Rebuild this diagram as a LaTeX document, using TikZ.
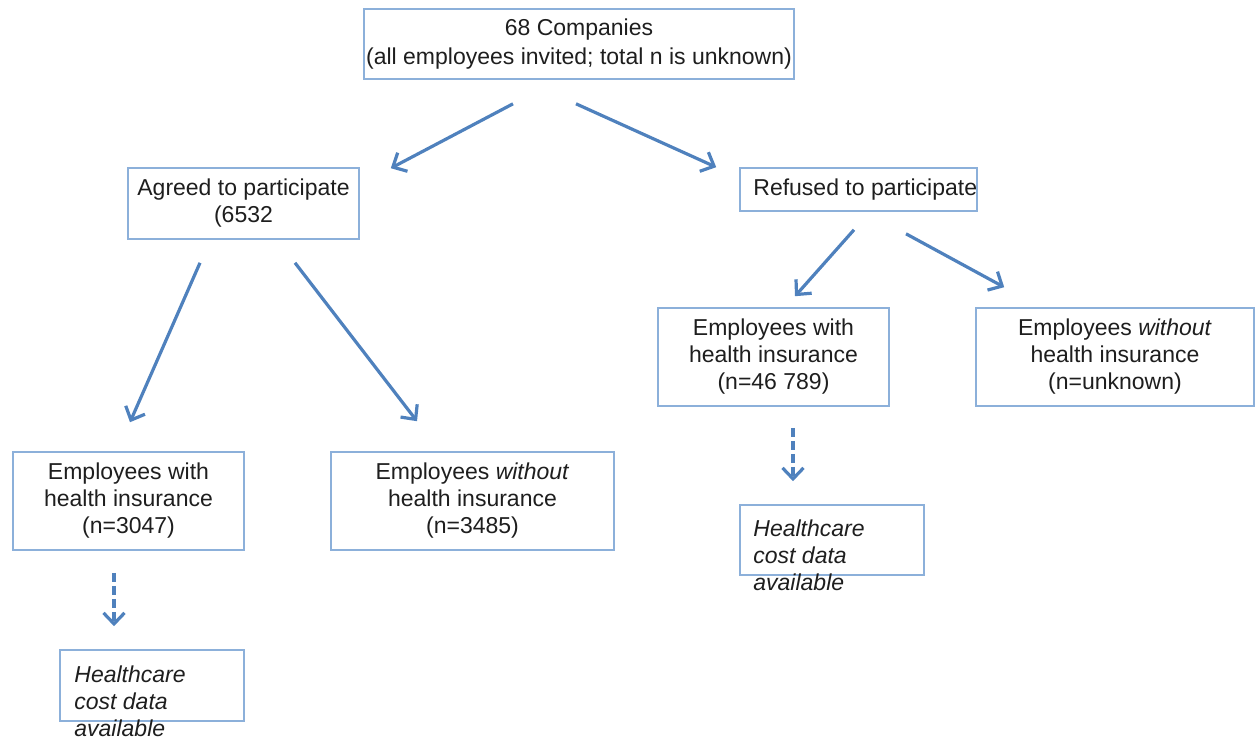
\documentclass[tikz,border=0pt]{standalone}
\usepackage{fontspec}
\setmainfont{Liberation Sans}
\usetikzlibrary{arrows.meta}
\definecolor{boxblue}{RGB}{140,176,218}
\definecolor{arrowblue}{RGB}{79,129,189}
\definecolor{ink}{RGB}{30,30,30}
\begin{document}
\begin{tikzpicture}[x=1pt,y=-1pt,
  box/.style={draw=boxblue, line width=1.6pt, rectangle, inner sep=0pt,
    align=center, text=ink, font=\fontsize{23}{27}\selectfont},
  label text/.style={inner sep=0pt, text=ink, font=\fontsize{23}{27}\selectfont},
  note/.style={label text, align=left, font=\fontsize{23}{27}\selectfont\itshape},
  arr/.style={draw=arrowblue, line width=3.2pt, -{Straight Barb[length=11pt,width=21pt]}},
  darr/.style={arr, dash pattern=on 9pt off 4pt}
]
\useasboundingbox (0,0) rectangle (1255,740);

% boxes
\node[box, minimum width=430pt, minimum height=70pt, font=\fontsize{23}{29}\selectfont] (top) at (579,44)
  {68 Companies\\(all employees invited; total n is unknown)};
\node[box, minimum width=231pt, minimum height=71pt] (agreed) at (243.5,203.5)
  {Agreed to participate\\(6532};
\node[box, minimum width=237pt, minimum height=43pt] (refused) at (858.5,189.5) {};
\node[label text, anchor=west] (refusedtext) at ([xshift=14pt]refused.west) {Refused to participate};

\node[box, minimum width=231pt, minimum height=98pt] (lw) at (128.5,501)
  {Employees with\\health insurance\\(n=3047)};
\node[box, minimum width=283pt, minimum height=98pt] (mw) at (472.5,501)
  {Employees \textit{without}\\health insurance\\(n=3485)};
\node[box, minimum width=231pt, minimum height=98pt] (rw) at (773.5,357)
  {Employees with\\health insurance\\(n=46 789)};
\node[box, minimum width=278pt, minimum height=98pt] (rwo) at (1115,357)
  {Employees \textit{without}\\health insurance\\(n=unknown)};

% cost data boxes (text runs past the lower edge)
\node[box, minimum width=184pt, minimum height=71pt] (hc1) at (152,685.5) {};
\node[note, anchor=north west] (hc1text) at ([xshift=15pt,yshift=-16pt]hc1.north west)
  {Healthcare\\cost data\\available};
\node[box, minimum width=184pt, minimum height=70pt] (hc2) at (832,540) {};
\node[note, anchor=north west] (hc2text) at ([xshift=14pt,yshift=-15pt]hc2.north west)
  {Healthcare\\cost data\\available};

% connectors
\draw[arr] ([xshift=-66pt,yshift=-24pt]top.south) -- ([xshift=31pt,yshift=-1pt]agreed.north east);
\draw[arr] ([xshift=-3pt,yshift=-24pt]top.south) -- ([xshift=-23pt]refused.north west);
\draw[arr] ([xshift=-43.5pt,yshift=-23pt]agreed.south) -- ([xshift=1.5pt,yshift=29pt]lw.north);
\draw[arr] ([xshift=51.5pt,yshift=-23pt]agreed.south) -- ([xshift=-55.5pt,yshift=30pt]mw.north);
\draw[arr] ([xshift=-4.5pt,yshift=-18pt]refused.south) -- ([xshift=21.5pt,yshift=11pt]rw.north);
\draw[arr] ([xshift=47.5pt,yshift=-22pt]refused.south) -- ([xshift=29pt,yshift=20pt]rwo.north west);
\draw[darr] ([xshift=-14.5pt,yshift=-22pt]lw.south) -- ([xshift=-38pt,yshift=23pt]hc1.north);
\draw[darr] ([xshift=19.5pt,yshift=-21pt]rw.south) -- ([xshift=-39pt,yshift=23pt]hc2.north);
\end{tikzpicture}
\end{document}
